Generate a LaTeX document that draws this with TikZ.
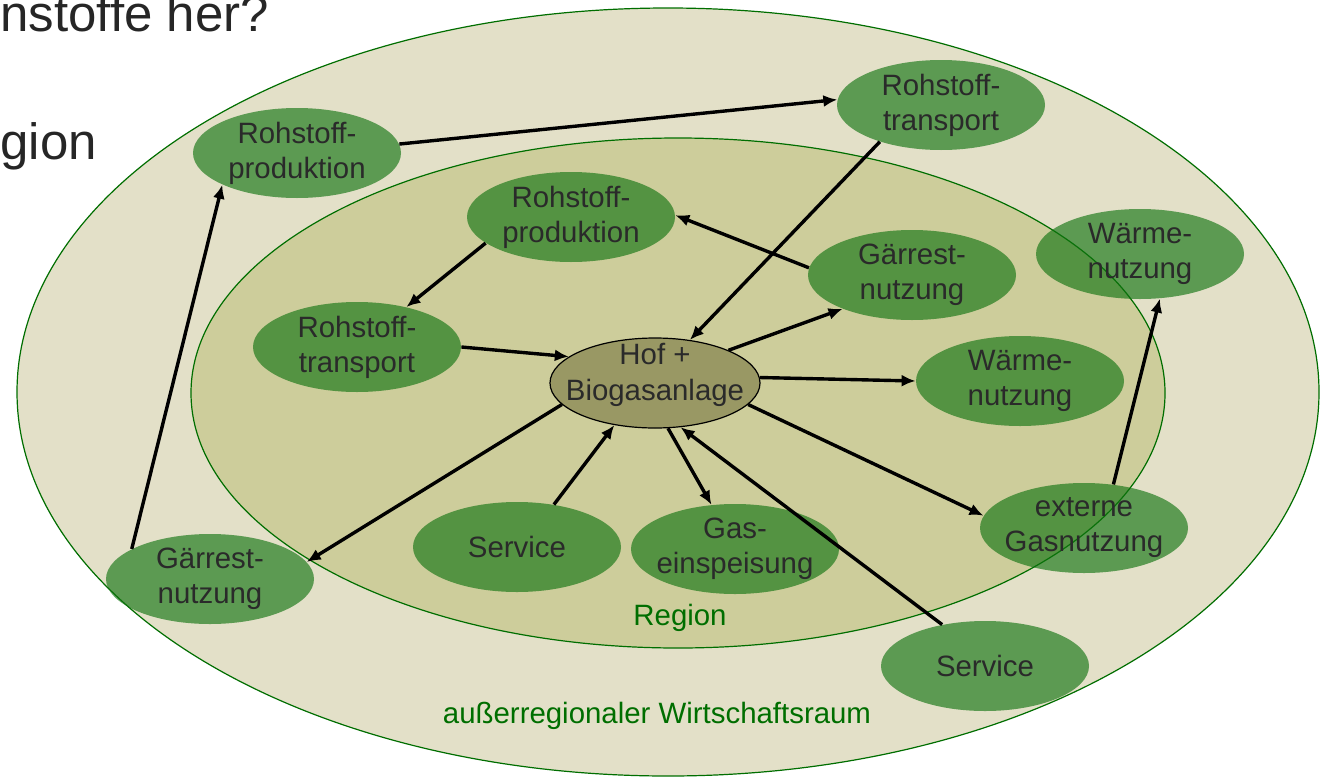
\documentclass[tikz,border=0pt]{standalone}
\usepackage{fontspec}
\setmainfont{Liberation Sans}
\usetikzlibrary{shapes.geometric,arrows.meta}
\definecolor{outerbg}{RGB}{227,224,200}
\definecolor{innerbg}{RGB}{205,205,155}
\definecolor{ringline}{RGB}{0,110,0}
\definecolor{blob}{RGB}{16,115,16}
\definecolor{hubfill}{RGB}{153,152,100}
\definecolor{txt}{RGB}{42,42,42}
\definecolor{lbl}{RGB}{0,110,0}
\tikzset{
  blobnode/.style={ellipse, fill=blob, fill opacity=0.64, text opacity=1, text=txt,
    minimum width=104pt, minimum height=45pt, inner xsep=-8pt, inner ysep=-1pt, align=center,
    font=\fontsize{14.7}{17.5}\selectfont},
  hubnode/.style={ellipse, fill=hubfill, draw=black, line width=0.6pt, text=txt,
    minimum width=105pt, minimum height=45pt, inner xsep=-8pt, inner ysep=-7pt, align=center,
    text depth=11pt, font=\fontsize{14.7}{18}\selectfont},
  conn/.style={line width=1.7pt, -{Latex[length=7pt,width=6pt]}},
  ringlabel/.style={text=lbl, font=\fontsize{14.7}{16}\selectfont},
  titletext/.style={text=black!85, font=\fontsize{25.5}{30}\selectfont, anchor=base west, inner sep=0pt}
}
\begin{document}
\begin{tikzpicture}[x=0.5pt,y=-0.5pt]
\useasboundingbox (0,0) rectangle (1320,776);
\clip (0,0) rectangle (1320,776);
% rings
\fill[outerbg, draw=ringline, line width=0.6pt] (668,392) ellipse [x radius=651, y radius=384];
\fill[innerbg, draw=ringline, line width=0.6pt] (678,393) ellipse [x radius=487, y radius=255];
% title fragments
\node[titletext] (t1) at (0,32) {nstoffe her?};
\node[titletext] (t2) at (0,159) {gion};
% ring labels
\node[ringlabel] (reg) at (680,618) {Region};
\node[ringlabel] (aus) at (657,716) {außerregionaler Wirtschaftsraum};
% nodes
\node[blobnode] (rp1) at (297,153) {Rohstoff-\\produktion};
\node[blobnode] (rt1) at (941,105) {Rohstoff-\\transport};
\node[blobnode] (rp2) at (571,217) {Rohstoff-\\produktion};
\node[blobnode] (gn2) at (912,275) {Gärrest-\\nutzung};
\node[blobnode] (wn1) at (1140,254) {Wärme-\\nutzung};
\node[blobnode] (rt2) at (357,347) {Rohstoff-\\transport};
\node[hubnode] (hof) at (655,383) {Hof +\\Biogasanlage};
\node[blobnode] (wn2) at (1020,381) {Wärme-\\nutzung};
\node[blobnode] (ext) at (1084,528) {externe\\Gasnutzung};
\node[blobnode] (sv2) at (517,547) {Service};
\node[blobnode] (gas) at (735,549) {Gas-\\einspeisung};
\node[blobnode] (gn1) at (210,579) {Gärrest-\\nutzung};
\node[blobnode] (sv1) at (985,666) {Service};
% connectors
\draw[conn] (rp1.5) -- (rt1.177);
\draw[conn] (rt1.211) -- (hof.51);
\draw[conn] (gn2.176) -- (rp2.1);
\draw[conn] (rp2.197) -- (rt2.39);
\draw[conn] (rt2.0) -- (hof.163);
\draw[conn] (hof.24) -- (gn2.206);
\draw[conn] (hof.3) -- (wn2.180);
\draw[conn] (hof.-13) -- (ext.173);
\draw[conn] (hof.193) -- (gn1.10);
\draw[conn] (sv2.49) -- (hof.226);
\draw[conn] (hof.286) -- (gas.118);
\draw[conn] (sv1.136) -- (hof.300);
\draw[conn] (ext.56) -- (wn1.294);
\draw[conn] (gn1.159) -- (rp1.203);
\end{tikzpicture}
\end{document}
